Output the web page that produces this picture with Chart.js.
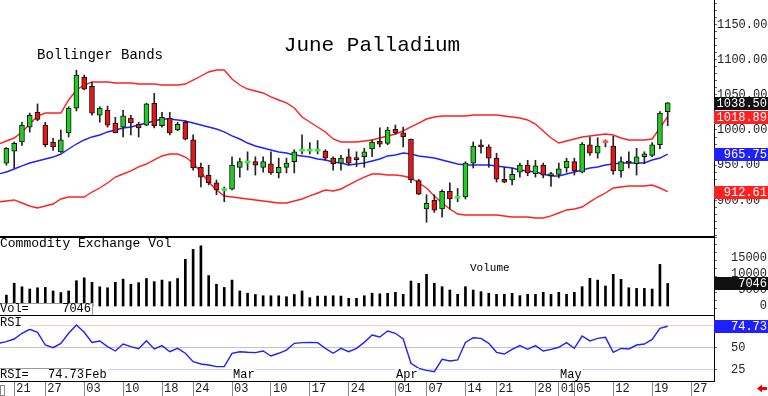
<!DOCTYPE html>
<html><head><meta charset="utf-8">
<script src="https://cdn.jsdelivr.net/npm/chart.js@4.4.1/dist/chart.umd.min.js"></script>
<style>
html,body{margin:0;padding:0;background:#fff;width:768px;height:396px;overflow:hidden;position:relative}
canvas{position:absolute;left:0}
#cMain{top:0}#cVol{top:237px}#cRsi{top:316px}
</style></head><body>
<canvas id="cMain" width="768" height="237"></canvas>
<canvas id="cVol" width="768" height="79"></canvas>
<canvas id="cRsi" width="768" height="80"></canvas>
<script>
// ---------- data ----------
const chartTitle = 'June Palladium';
const bandsLabel = 'Bollinger Bands';
const volPanelLabel = 'Commodity Exchange Vol';
const volSeriesLabel = 'Volume';
const rsiLabel = 'RSI';

const dates = ['01-17','01-21','01-22','01-23','01-24','01-27','01-28','01-29','01-30','01-31',
'02-03','02-04','02-05','02-06','02-07','02-10','02-11','02-12','02-13','02-14',
'02-18','02-19','02-20','02-21','02-24','02-25','02-26','02-27','02-28',
'03-03','03-04','03-05','03-06','03-07','03-10','03-11','03-12','03-13','03-14',
'03-17','03-18','03-19','03-20','03-21','03-24','03-25','03-26','03-27','03-28','03-31',
'04-01','04-02','04-03','04-04','04-07','04-08','04-09','04-10','04-11',
'04-14','04-15','04-16','04-17','04-21','04-22','04-23','04-24','04-25',
'04-28','04-29','04-30',
'05-01','05-02','05-05','05-06','05-07','05-08','05-09','05-12','05-13','05-14','05-15','05-16','05-19','05-20','05-21'];
const futureDates = ['05-22','05-23','05-27'];
const priorDate = '01-16'; // first value of band / RSI arrays belongs to this session

const open  = [953,970,983,1004,1025,1007,983,969,996,1031,1075,1062,1021,1028,1010,1004,1017,1008,1007,1038,1006,1017,1000,1011,986,947,936,925,914,916,947,953,955,947,952,939,947,955,970,970,970,970,960,953,962,960,962,973,984,981,1001,996,987,928,888,900,888,913,903,905,953,979,976,960,930,929,940,950,938,950,935,937,946,955,940,979,967,983,977,942,956,952,962,964,979,1026];
const high  = [975,983,1011,1024,1037,1011,988,1000,1033,1085,1078,1068,1033,1034,1018,1028,1021,1011,1038,1052,1025,1025,1011,1013,993,953,950,929,919,962,960,969,962,962,969,960,960,972,993,982,985,972,962,964,973,969,974,986,1003,1004,1007,1004,987,930,908,908,915,925,917,955,983,986,979,967,947,946,953,957,957,953,940,953,960,960,982,990,989,986,991,962,969,974,969,982,1026,1039];
const low   = [950,946,978,997,1013,976,971,968,990,1027,1057,1021,1011,1004,996,990,993,990,1006,1003,1004,993,999,986,943,919,922,908,898,915,933,943,936,940,937,932,939,939,966,966,966,957,943,943,950,948,947,962,976,979,994,976,925,908,869,883,876,888,898,902,946,967,947,926,925,922,933,935,933,932,920,932,940,936,939,964,960,976,937,933,946,936,952,962,973,1006];
const close = [974,981,1007,1021,1015,979,976,986,1031,1078,1058,1024,1031,1007,996,1020,1010,1003,1037,1006,1018,996,1008,987,946,933,925,915,915,950,955,954,950,955,939,947,953,969,971,971,971,960,952,960,953,958,969,983,980,1000,996,990,929,909,896,886,913,902,904,953,977,976,960,930,926,937,950,939,949,936,938,945,956,942,980,967,977,982,942,955,953,962,966,979,1024,1038.5];

const upperBand = [980.1,984.4,988.6,997.2,1008.5,1019.9,1024.1,1024.1,1024.1,1042.6,
1056.8,1063.9,1068.2,1068.2,1068.2,1066.8,1066.8,1066.8,1065.3,1065.3,
1065.3,1063.9,1063.9,1063.9,1065.3,1071.0,1076.7,1082.4,1085.2,1085.2,
1072.4,1063.9,1058.2,1055.4,1052.6,1046.9,1042.6,1038.4,1031.3,1018.5,
1011.4,1004.3,997.2,987.2,983.0,983.0,983.0,984.4,985.8,988.6,
991.5,994.3,998.6,1004.3,1009.9,1015.6,1018.5,1019.9,1019.9,1019.9,
1019.9,1021.3,1021.3,1021.3,1021.3,1019.9,1018.5,1017.0,1014.2,1008.5,
998.6,988.6,981.5,984.4,987.2,990.1,991.5,992.9,994.3,992.9,
988.6,985.8,985.8,985.8,987.2,1002.8,1018.89];
const midBand = [937.5,940.3,944.6,948.9,953.1,956.0,958.8,961.6,965.9,973.0,
980.1,985.8,990.1,992.9,997.2,1000.0,1002.8,1004.3,1007.1,1009.9,
1012.8,1015.6,1015.6,1014.2,1012.8,1009.9,1007.1,1004.3,1001.4,997.2,
991.5,987.2,981.5,977.3,974.4,971.6,968.8,967.3,964.5,963.1,
961.6,958.8,957.4,954.5,953.1,950.3,951.7,953.1,956.0,958.8,
963.1,964.5,967.3,965.9,963.1,961.6,960.2,957.4,954.5,951.7,
950.3,950.3,950.3,950.3,948.9,947.5,946.0,943.2,941.8,940.3,
937.5,934.7,934.7,937.5,940.3,943.2,946.0,947.5,950.3,951.7,
953.1,953.1,953.1,953.1,957.4,960.2,965.75];
const lowerBand = [897.8,899.2,900.6,896.3,892.0,889.2,892.0,894.9,902.0,904.8,
904.8,904.8,911.9,917.6,924.7,933.2,937.5,941.8,947.5,951.7,
957.4,963.1,965.9,965.9,961.6,953.1,940.3,926.1,914.8,906.3,
904.8,903.4,902.0,900.6,899.2,897.8,896.3,896.3,899.2,902.0,
906.3,910.5,914.8,913.4,916.2,921.9,927.6,933.2,937.5,937.5,
936.1,936.1,934.7,931.8,924.7,917.6,906.3,896.3,887.8,880.7,
879.3,879.3,879.3,879.3,879.3,877.9,876.4,876.4,876.4,875.0,
875.0,877.9,882.1,886.4,887.8,890.6,897.8,904.8,910.5,917.6,
919.1,920.5,920.5,920.5,921.9,917.6,912.61];

const volume = [3400,7100,6000,5300,5700,5800,4700,4200,4700,7900,
8800,7400,6000,5700,7400,8400,6800,7300,8600,7600,
8100,7600,8600,14600,17700,18800,9500,6800,5800,8100,
4700,4000,3600,3200,3200,3200,2900,3600,4700,2600,
3100,3100,3200,3100,2400,2400,3200,4000,3800,3970,
4270,3650,7800,7080,9900,7080,6040,5000,3650,6040,
5000,4480,3970,3650,3650,3970,3230,3650,3650,4270,
3650,4270,3650,4270,6040,8640,8100,6250,9900,8330,
5700,5500,5500,5300,13000,7046];
const volTickValues = [0, 5000, 10000, 15000];

const rsi = [55.3,57.2,60.2,66.7,71.2,67.8,53.4,50.4,55.3,66.7,
76.1,67.8,56.4,58.0,51.5,46.6,54.5,51.5,49.2,58.3,
49.0,52.7,45.8,49.6,44.0,34.5,31.8,30.7,28.8,28.8,
44.0,45.8,45.1,44.7,46.6,40.9,44.0,47.7,55.3,56.1,
56.4,56.1,49.6,44.0,49.6,45.8,49.6,56.4,64.8,62.5,
69.3,66.7,60.2,32.6,26.9,24.6,23.1,37.1,35.2,36.4,
56.4,61.7,61.0,55.3,45.1,43.2,48.5,52.7,48.5,52.7,
46.6,48.5,50.8,56.1,49.6,63.6,58.0,61.0,62.1,45.1,
49.6,48.9,53.4,54.5,59.8,72.3,74.73];

const tickDates  = ['01-21','01-27','02-03','02-10','02-18','02-24','03-03','03-10','03-17','03-24','04-01','04-07','04-14','04-21','04-28','05-01','05-05','05-12','05-19','05-27'];
const tickLabels = ['21','27','03','10','18','24','03','10','17','24','01','07','14','21','28','01','05','12','19','27'];
const monthDates  = ['02-03','03-03','04-01','05-01'];
const monthLabels = ['Feb','Mar','Apr','May'];

// ---------- helpers ----------
const axisDates = dates.concat(futureDates);
const last = dates.length - 1;
const X_MIN = -0.823, X_MAX = 90.95;
const FONT = '"Liberation Mono", "DejaVu Sans Mono", monospace';
Chart.defaults.font.family = FONT;
Chart.defaults.font.size = 12;
Chart.defaults.color = '#222';

const isDoji = i => Math.abs(close[i] - open[i]) <= 1;
const hiddenX = () => ({type:'linear', min:X_MIN, max:X_MAX, offset:false, display:false});
const fitY = s => { s.width = 54; s.paddingTop = 0; s.paddingBottom = 0; };
const baseOpts = {responsive:false, animation:false, events:[], layout:{padding:0},
  plugins:{legend:{display:false}, tooltip:{enabled:false}}};

function drawTag(ctx, y, text, color) {
  y = Math.round(y);
  ctx.fillStyle = color; ctx.fillRect(714, y - 6, 54, 13);
  ctx.fillStyle = '#fff'; ctx.font = '12px ' + FONT;
  ctx.textAlign = 'right'; ctx.textBaseline = 'middle';
  ctx.fillText(text, 767, y + 0.5);
}

// ---------- main price chart ----------
new Chart(document.getElementById('cMain'), {
  type: 'bar',
  data: { datasets: [
    {type:'bar', label:'body', order:0, grouped:false, barThickness:5, minBarLength:2,
      data: dates.map((d,i) => ({x:i, y:[open[i], close[i]]})),
      backgroundColor: c => { const i = c.dataIndex; const up = close[i] >= open[i];
        if (isDoji(i)) return up ? '#33ee33' : '#ff5a5a'; return up ? '#22cc22' : '#e81515'; },
      borderColor: c => isDoji(c.dataIndex) ? 'rgba(0,0,0,0)' : '#111',
      borderWidth: c => isDoji(c.dataIndex) ? 0 : 1, borderSkipped:false},
    {type:'bar', label:'wick', order:1, grouped:false, barThickness:1,
      data: dates.map((d,i) => ({x:i, y:[low[i], high[i]]})), backgroundColor:'#222'},
    {type:'line', label:'upper', order:2, data: upperBand.map((v,k)=>({x:k-1, y:v})), borderColor:'#ff2020', borderWidth:1.4, pointRadius:0},
    {type:'line', label:'mid', order:2, data: midBand.map((v,k)=>({x:k-1, y:v})), borderColor:'#2020ff', borderWidth:1.4, pointRadius:0},
    {type:'line', label:'lower', order:2, data: lowerBand.map((v,k)=>({x:k-1, y:v})), borderColor:'#ff2020', borderWidth:1.4, pointRadius:0}
  ]},
  options: Object.assign({}, baseOpts, {
    scales: {
      x: hiddenX(),
      y: {position:'right', min:848, max:1184.66, beginAtZero:false,
        ticks:{stepSize:10, autoSkip:false, includeBounds:false, padding:0, color:'#222', font:{size:12},
          callback: v => (Math.abs(v % 50) < 0.01 && v >= 900 && v <= 1150) ? v.toFixed(2) : ''},
        grid:{drawOnChartArea:false, tickLength:3, color:'#666'},
        border:{display:true, color:'#000'},
        afterFit: fitY}
    }
  }),
  plugins: [{id:'mainDecor', afterDraw(chart) {
    const ctx = chart.ctx, ys = chart.scales.y, ca = chart.chartArea;
    ctx.save();
    ctx.strokeStyle = '#000'; ctx.lineWidth = 1;
    ctx.beginPath(); ctx.moveTo(0, ca.bottom - 0.5); ctx.lineTo(ca.right, ca.bottom - 0.5); ctx.stroke();
    ctx.fillStyle = '#000'; ctx.textBaseline = 'middle';
    ctx.font = '21px ' + FONT; ctx.textAlign = 'center'; ctx.fillText(chartTitle, 372, 45);
    ctx.font = '14px ' + FONT; ctx.textAlign = 'left'; ctx.fillText(bandsLabel, 37, 55);
    drawTag(ctx, ys.getPixelForValue(close[last]), close[last].toFixed(2), '#111');
    drawTag(ctx, ys.getPixelForValue(upperBand[upperBand.length-1]), upperBand[upperBand.length-1].toFixed(2), '#ff2020');
    drawTag(ctx, ys.getPixelForValue(midBand[midBand.length-1]), midBand[midBand.length-1].toFixed(2), '#2020ff');
    drawTag(ctx, ys.getPixelForValue(lowerBand[lowerBand.length-1]), lowerBand[lowerBand.length-1].toFixed(2), '#ff2020');
    ctx.restore();
  }}]
});

// ---------- volume chart ----------
new Chart(document.getElementById('cVol'), {
  type: 'bar',
  data: { datasets: [
    {label:'vol', grouped:false, barThickness:2, backgroundColor:'#000',
      data: volume.map((v,i) => ({x:i, y:v}))}
  ]},
  options: Object.assign({}, baseOpts, {
    scales: {
      x: hiddenX(),
      y: {position:'right', min:-3125, max:21562.5, beginAtZero:false,
        ticks:{stepSize:2500, autoSkip:false, includeBounds:false, display:false},
        grid:{drawOnChartArea:false, tickLength:3, color:'#666'},
        border:{display:true, color:'#000'},
        afterFit: fitY}
    }
  }),
  plugins: [{id:'volDecor', afterDraw(chart) {
    const ctx = chart.ctx, ys = chart.scales.y, ca = chart.chartArea;
    ctx.save();
    ctx.strokeStyle = '#000'; ctx.lineWidth = 1;
    ctx.beginPath(); ctx.moveTo(0, 0.5); ctx.lineTo(ca.right, 0.5); ctx.stroke();
    ctx.beginPath(); ctx.moveTo(0, ca.bottom - 0.5); ctx.lineTo(ca.right, ca.bottom - 0.5); ctx.stroke();
    // axis labels (right-aligned, from the scale)
    ctx.fillStyle = '#222'; ctx.font = '12px ' + FONT; ctx.textAlign = 'right'; ctx.textBaseline = 'middle';
    volTickValues.forEach(v => ctx.fillText(String(v), 767, ys.getPixelForValue(v)));
    ctx.fillStyle = '#000'; ctx.textAlign = 'left';
    ctx.font = '13px ' + FONT; ctx.fillText(volPanelLabel, 0, 7);
    ctx.font = '11px ' + FONT; ctx.fillText(volSeriesLabel, 470, 31);
    // value box
    ctx.fillStyle = '#fff'; ctx.fillRect(0, 66, 93, 12);
    ctx.strokeStyle = '#999';
    ctx.beginPath(); ctx.moveTo(0, 66.5); ctx.lineTo(92.5, 66.5); ctx.lineTo(92.5, 78); ctx.stroke();
    ctx.fillStyle = '#000'; ctx.font = '12px ' + FONT;
    ctx.fillText('Vol=', 0, 72);
    ctx.textAlign = 'right'; ctx.fillText(String(volume[last]), 91, 72);
    const y = Math.round(ys.getPixelForValue(volume[last]));
    ctx.fillStyle = '#111'; ctx.fillRect(714, y - 6, 54, 13);
    ctx.fillStyle = '#fff'; ctx.textAlign = 'right'; ctx.fillText(String(volume[last]), 767, y + 0.5);
    ctx.restore();
  }}]
});

// ---------- RSI chart with date axis ----------
new Chart(document.getElementById('cRsi'), {
  type: 'line',
  data: { datasets: [
    {label:'rsi', data: rsi.map((v,k)=>({x:k-1, y:v})), borderColor:'#2020ff', borderWidth:1.4, pointRadius:0}
  ]},
  options: Object.assign({}, baseOpts, {
    scales: {
      x: {type:'linear', min:X_MIN, max:X_MAX, offset:false, position:'bottom',
        afterBuildTicks: s => { s.ticks = tickDates.map(d => ({value: axisDates.indexOf(d)})); },
        ticks:{autoSkip:false, maxRotation:0, minRotation:0, align:'start', labelOffset:2, padding:-14.5,
          color:'#222', font:{size:12}, callback: (v, i) => tickLabels[i]},
        grid:{drawOnChartArea:false, tickLength:15, color:'#888'},
        border:{display:true, color:'#000'},
        afterFit: s => { s.height = 15; s.paddingLeft = 0; s.paddingRight = 0; }},
      y: {position:'right', min:12.5, max:86.36,
        ticks:{stepSize:25, autoSkip:false, includeBounds:false, padding:14, color:'#222', font:{size:12},
          callback: v => v === 75 ? '' : String(v)},
        grid:{drawOnChartArea:true, tickLength:3, tickColor:'#666',
          color: c => c.tick.value === 75 ? '#ffc6c6' : (c.tick.value === 50 ? '#c4c4c4' : '#c8ccff')},
        border:{display:true, color:'#000'},
        afterFit: fitY}
    }
  }),
  plugins: [{id:'rsiDecor', afterDraw(chart) {
    const ctx = chart.ctx, ys = chart.scales.y, xs = chart.scales.x;
    ctx.save();
    ctx.textBaseline = 'middle'; ctx.textAlign = 'left'; ctx.font = '12px ' + FONT;
    ctx.fillStyle = '#fff'; ctx.fillRect(0, 1, 30, 12);
    ctx.fillStyle = '#000'; ctx.fillText(rsiLabel, 0, 7);
    // value box
    ctx.fillStyle = '#fff'; ctx.fillRect(0, 52, 85, 13);
    ctx.strokeStyle = '#999'; ctx.lineWidth = 1;
    ctx.beginPath(); ctx.moveTo(0, 52.5); ctx.lineTo(84.5, 52.5); ctx.lineTo(84.5, 64); ctx.stroke();
    ctx.fillStyle = '#000'; ctx.fillText(rsiLabel + '=', 0, 58.5);
    ctx.textAlign = 'right'; ctx.fillText(rsi[rsi.length-1].toFixed(2), 84, 58.5);
    // month labels
    ctx.textAlign = 'left';
    monthDates.forEach((d, k) => {
      const x = Math.round(xs.getPixelForValue(axisDates.indexOf(d))) + 1;
      const w = ctx.measureText(monthLabels[k]).width;
      ctx.fillStyle = '#fff'; ctx.fillRect(x - 1, 52, w + 2, 12);
      ctx.fillStyle = '#000'; ctx.fillText(monthLabels[k], x, 59);
    });
    // tag
    const y = Math.round(ys.getPixelForValue(rsi[rsi.length-1]));
    ctx.fillStyle = '#2020ff'; ctx.fillRect(714, y - 6, 54, 13);
    ctx.fillStyle = '#fff'; ctx.textAlign = 'right'; ctx.fillText(rsi[rsi.length-1].toFixed(2), 767, y + 0.5);
    // small box bottom-left
    ctx.strokeStyle = '#888'; ctx.strokeRect(0.5, 69.5, 4, 10);
    // red arrow bottom-right
    ctx.fillStyle = '#ee0000';
    ctx.beginPath(); ctx.moveTo(757, 72.5); ctx.lineTo(762, 68.5); ctx.lineTo(762, 76.5); ctx.closePath(); ctx.fill();
    ctx.fillRect(762, 71, 5, 3);
    ctx.restore();
  }}]
});
</script>
</body></html>
